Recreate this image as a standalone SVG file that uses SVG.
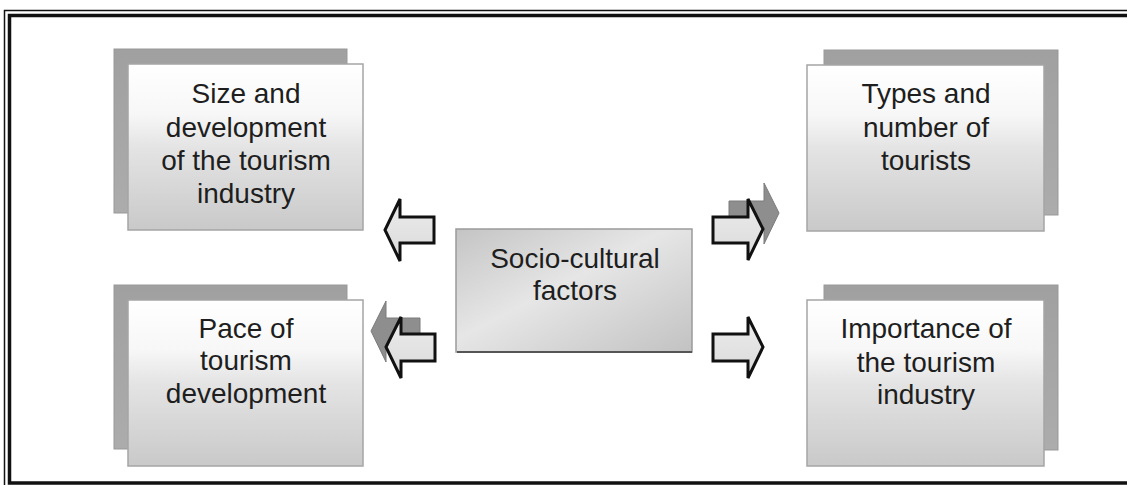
<svg xmlns="http://www.w3.org/2000/svg" width="1127" height="485" viewBox="0 0 1127 485">
  <defs>
    <linearGradient id="front" x1="0" y1="0" x2="0" y2="1">
      <stop offset="0" stop-color="#ffffff"/>
      <stop offset="0.3" stop-color="#f7f7f7"/>
      <stop offset="0.5" stop-color="#e4e4e4"/>
      <stop offset="1" stop-color="#c9c9c9"/>
    </linearGradient>
    <linearGradient id="back" x1="0" y1="0" x2="0" y2="1">
      <stop offset="0" stop-color="#a0a0a0"/>
      <stop offset="1" stop-color="#acacac"/>
    </linearGradient>
    <linearGradient id="center" x1="0" y1="0" x2="1" y2="1">
      <stop offset="0" stop-color="#c4c4c4"/>
      <stop offset="0.45" stop-color="#e6e6e6"/>
      <stop offset="1" stop-color="#c2c2c2"/>
    </linearGradient>
    <linearGradient id="arrowFill" x1="0" y1="0" x2="0" y2="1">
      <stop offset="0" stop-color="#ececec"/>
      <stop offset="1" stop-color="#dadada"/>
    </linearGradient>
  </defs>
  <style>
    .frame { fill: none; stroke: #111; }
    .back { fill: url(#back); stroke: #999; stroke-width: 1; }
    .front { fill: url(#front); stroke: #a5a5a5; stroke-width: 1.5; }
    .ctr { fill: url(#center); stroke: #9a9a9a; stroke-width: 1.5; }
    .lbl { font-family: "Liberation Sans", Arial, sans-serif; font-size: 28px; fill: #1e1e1e; text-anchor: middle; }
    .arrow { fill: url(#arrowFill); stroke: #111; stroke-width: 3; stroke-linejoin: miter; }
    .shadow { fill: #8e8e8e; stroke: #7a7a7a; stroke-width: 1; }
  </style>

  <rect width="1127" height="485" fill="#ffffff"/>

  <g id="frame">
    <path class="frame" stroke-width="1.5" d="M1127,10.5 H4.5 V485"/>
    <path class="frame" stroke-width="3.5" d="M1127,15.5 H9.5 V483 H1127"/>
  </g>

  <g id="node-size">
    <rect class="back" x="114" y="49" width="233" height="164"/>
    <rect class="front" x="128" y="64" width="235" height="166"/>
    <text class="lbl" x="246" y="103">Size and</text>
    <text class="lbl" x="246" y="137">development</text>
    <text class="lbl" x="246" y="170">of the tourism</text>
    <text class="lbl" x="246" y="203">industry</text>
  </g>

  <g id="node-pace">
    <rect class="back" x="114" y="285" width="233" height="164"/>
    <rect class="front" x="128" y="300" width="235" height="166"/>
    <text class="lbl" x="246" y="338">Pace of</text>
    <text class="lbl" x="246" y="370">tourism</text>
    <text class="lbl" x="246" y="403">development</text>
  </g>

  <g id="node-types">
    <rect class="back" x="824" y="50" width="234" height="165"/>
    <rect class="front" x="807" y="65" width="237" height="166"/>
    <text class="lbl" x="926" y="103">Types and</text>
    <text class="lbl" x="926" y="137">number of</text>
    <text class="lbl" x="926" y="170">tourists</text>
  </g>

  <g id="node-importance">
    <rect class="back" x="824" y="285" width="234" height="165"/>
    <rect class="front" x="807" y="300" width="237" height="166"/>
    <text class="lbl" x="926" y="338">Importance of</text>
    <text class="lbl" x="926" y="372">the tourism</text>
    <text class="lbl" x="926" y="404">industry</text>
  </g>

  <g id="node-center">
    <rect class="ctr" x="456" y="229" width="236" height="123"/>
    <line x1="457" y1="352" x2="692" y2="352" stroke="#555" stroke-width="2"/>
    <text class="lbl" x="575" y="268">Socio-cultural</text>
    <text class="lbl" x="575" y="300">factors</text>
  </g>

  <g id="connectors">
    <polygon class="shadow" points="729,201 764,201 764,183 779,213 764,244 764,227 729,227"/>
    <polygon class="shadow" points="371,331 386,301 386,318 420,318 420,345 386,345 386,362"/>
    <polygon class="arrow" points="385,230 400,199 400,217 434,217 434,243 400,243 400,261"/>
    <polygon class="arrow" points="386,347 401,317 401,334 435,334 435,361 401,361 401,378"/>
    <polygon class="arrow" points="713,217 748,217 748,199 763,229 748,260 748,243 713,243"/>
    <polygon class="arrow" points="713,334 748,334 748,317 763,347 748,378 748,361 713,361"/>
  </g>
</svg>
